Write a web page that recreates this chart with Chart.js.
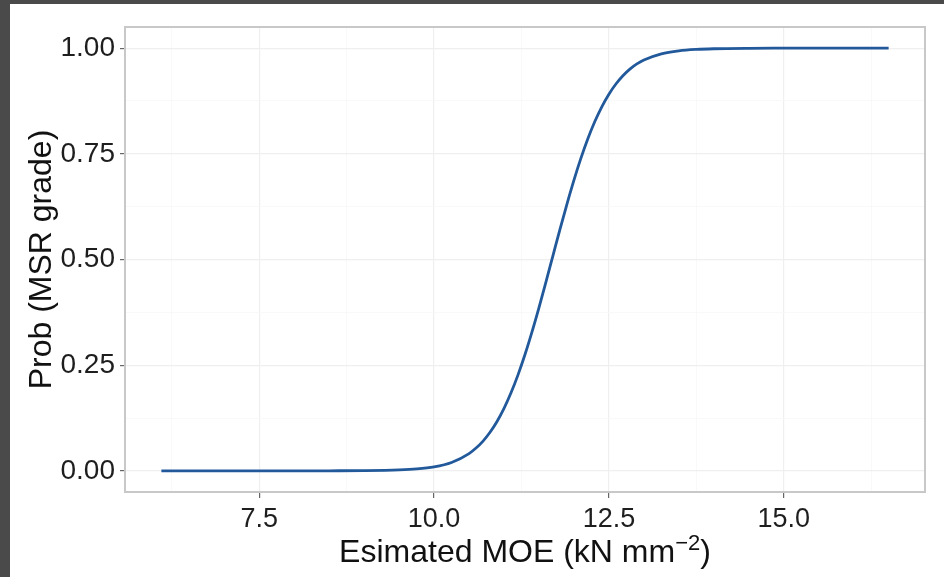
<!DOCTYPE html>
<html>
<head>
<meta charset="utf-8">
<script src="https://cdn.jsdelivr.net/npm/chart.js@4.4.1/dist/chart.umd.min.js"></script>
<style>
  html, body { margin: 0; padding: 0; background: #4a4a4a; width: 944px; height: 577px; overflow: hidden; }
  #wrap { position: absolute; left: 10px; top: 4px; width: 934px; height: 573px; background: #ffffff; }
  canvas { display: block; }
</style>
</head>
<body>
<div id="wrap"><canvas id="c" width="934" height="573"></canvas></div>
<script>
// ---- data ----
const moeValues = [6.1, 6.5, 7.0, 7.5, 8.0, 8.5, 9.0, 9.5, 9.75, 10.0, 10.25, 10.5, 10.6, 10.7, 10.8, 10.9,
  11.0, 11.1, 11.2, 11.3, 11.4, 11.5, 11.6, 11.7, 11.8, 11.9, 12.0, 12.1, 12.2, 12.3, 12.4, 12.5,
  12.6, 12.7, 12.8, 12.9, 13.0, 13.25, 13.5, 13.75, 14.0, 14.5, 15.0, 15.5, 16.0, 16.5];
const probValues = [0.0000, 0.0000, 0.0000, 0.0000, 0.0001, 0.0002, 0.0006, 0.0023, 0.0045, 0.0094, 0.0198, 0.0408, 0.0539, 0.0705, 0.0913, 0.1169,
  0.1479, 0.1846, 0.2271, 0.2752, 0.3288, 0.3864, 0.4472, 0.5093, 0.5713, 0.6311, 0.6877, 0.7397, 0.7862, 0.8269, 0.8618, 0.8911,
  0.9152, 0.9348, 0.9504, 0.9626, 0.9720, 0.9866, 0.9937, 0.9970, 0.9985, 0.9996, 0.9999, 1.0000, 1.0000, 1.0000];
const xTickValues = [7.5, 10.0, 12.5, 15.0];
const yTickValues = [0.00, 0.25, 0.50, 0.75, 1.00];
const xTitleMain = 'Esimated MOE (kN mm';
const xTitleSup = '\u22122';
const xTitleEnd = ')';
const yTitle = 'Prob (MSR grade)';

// ---- styling ----
const FONT = "'Liberation Sans', Arial, Helvetica, sans-serif";
const xMin = 5.58, xMax = 17.02, yMin = -0.05, yMax = 1.05;
const xMinor = [6.25, 8.75, 11.25, 13.75, 16.25];
const yMinor = [0.125, 0.375, 0.625, 0.875];

function isMajor(list, v) { return list.some(m => Math.abs(m - v) < 1e-9); }

const panelPlugin = {
  id: 'panelBorder',
  afterDatasetsDraw(chart) {
    const {ctx, chartArea: a} = chart;
    ctx.save();
    ctx.strokeStyle = '#c8c8c8';
    ctx.lineWidth = 2;
    ctx.strokeRect(a.left, a.top, a.right - a.left, a.bottom - a.top);
    ctx.restore();
  },
  afterDraw(chart) {
    const {ctx, chartArea: a} = chart;
    ctx.save();
    ctx.fillStyle = '#111';
    ctx.textBaseline = 'alphabetic';
    const big = "32px " + FONT, small = "22px " + FONT;
    ctx.font = big; const w1 = ctx.measureText(xTitleMain).width; const w3 = ctx.measureText(xTitleEnd).width;
    ctx.font = small; const w2 = ctx.measureText(xTitleSup).width;
    const total = w1 + w2 + w3;
    let x = (a.left + a.right) / 2 - total / 2;
    const base = 557.5;
    ctx.textAlign = 'left';
    ctx.font = big; ctx.fillText(xTitleMain, x, base); x += w1;
    ctx.font = small; ctx.fillText(xTitleSup, x, base - 12); x += w2;
    ctx.font = big; ctx.fillText(xTitleEnd, x, base);
    ctx.restore();
  }
};

const ctx = document.getElementById('c').getContext('2d');
new Chart(ctx, {
  type: 'line',
  data: {
    datasets: [{
      data: moeValues.map((x, i) => ({x: x, y: probValues[i]})),
      borderColor: '#22599b',
      borderWidth: 2.8,
      pointRadius: 0,
      fill: false,
      cubicInterpolationMode: 'monotone'
    }]
  },
  options: {
    responsive: false,
    animation: false,
    devicePixelRatio: 1,
    layout: { padding: { left: 0, right: 19, top: 23, bottom: 0 } },
    plugins: { legend: { display: false }, tooltip: { enabled: false } },
    scales: {
      x: {
        type: 'linear', min: xMin, max: xMax,
        afterBuildTicks: ax => { ax.ticks = xTickValues.concat(xMinor).sort((a, b) => a - b).map(v => ({value: v})); },
        afterFit: ax => { ax.height = 85; },
        border: { display: false },
        grid: {
          color: c => isMajor(xTickValues, c.tick.value) ? '#efefef' : '#f7f7f7',
          lineWidth: c => isMajor(xTickValues, c.tick.value) ? 1.2 : 0.8,
          tickColor: c => isMajor(xTickValues, c.tick.value) ? '#666666' : 'rgba(0,0,0,0)',
          tickLength: 6, tickWidth: 1.2
        },
        ticks: {
          autoSkip: false, maxRotation: 0, padding: 5,
          color: '#1e1e1e', font: { family: FONT, size: 27 },
          callback: v => isMajor(xTickValues, v) ? v.toFixed(1) : ''
        },
        title: { display: false }
      },
      y: {
        type: 'linear', min: yMin, max: yMax,
        afterBuildTicks: ax => { ax.ticks = yTickValues.concat(yMinor).sort((a, b) => a - b).map(v => ({value: v})); },
        afterFit: ax => { ax.width = 115; },
        border: { display: false },
        grid: {
          color: c => isMajor(yTickValues, c.tick.value) ? '#efefef' : '#f7f7f7',
          lineWidth: c => isMajor(yTickValues, c.tick.value) ? 1.2 : 0.8,
          tickColor: c => isMajor(yTickValues, c.tick.value) ? '#666666' : 'rgba(0,0,0,0)',
          tickLength: 5, tickWidth: 1.2
        },
        ticks: {
          autoSkip: false, padding: 5,
          color: '#1e1e1e', font: { family: FONT, size: 28 },
          callback: v => isMajor(yTickValues, v) ? v.toFixed(2) : ''
        },
        title: {
          display: true, text: yTitle, color: '#111',
          font: { family: FONT, size: 32 },
          padding: { top: 13, bottom: 0 }
        }
      }
    }
  },
  plugins: [panelPlugin]
});
</script>
</body>
</html>
